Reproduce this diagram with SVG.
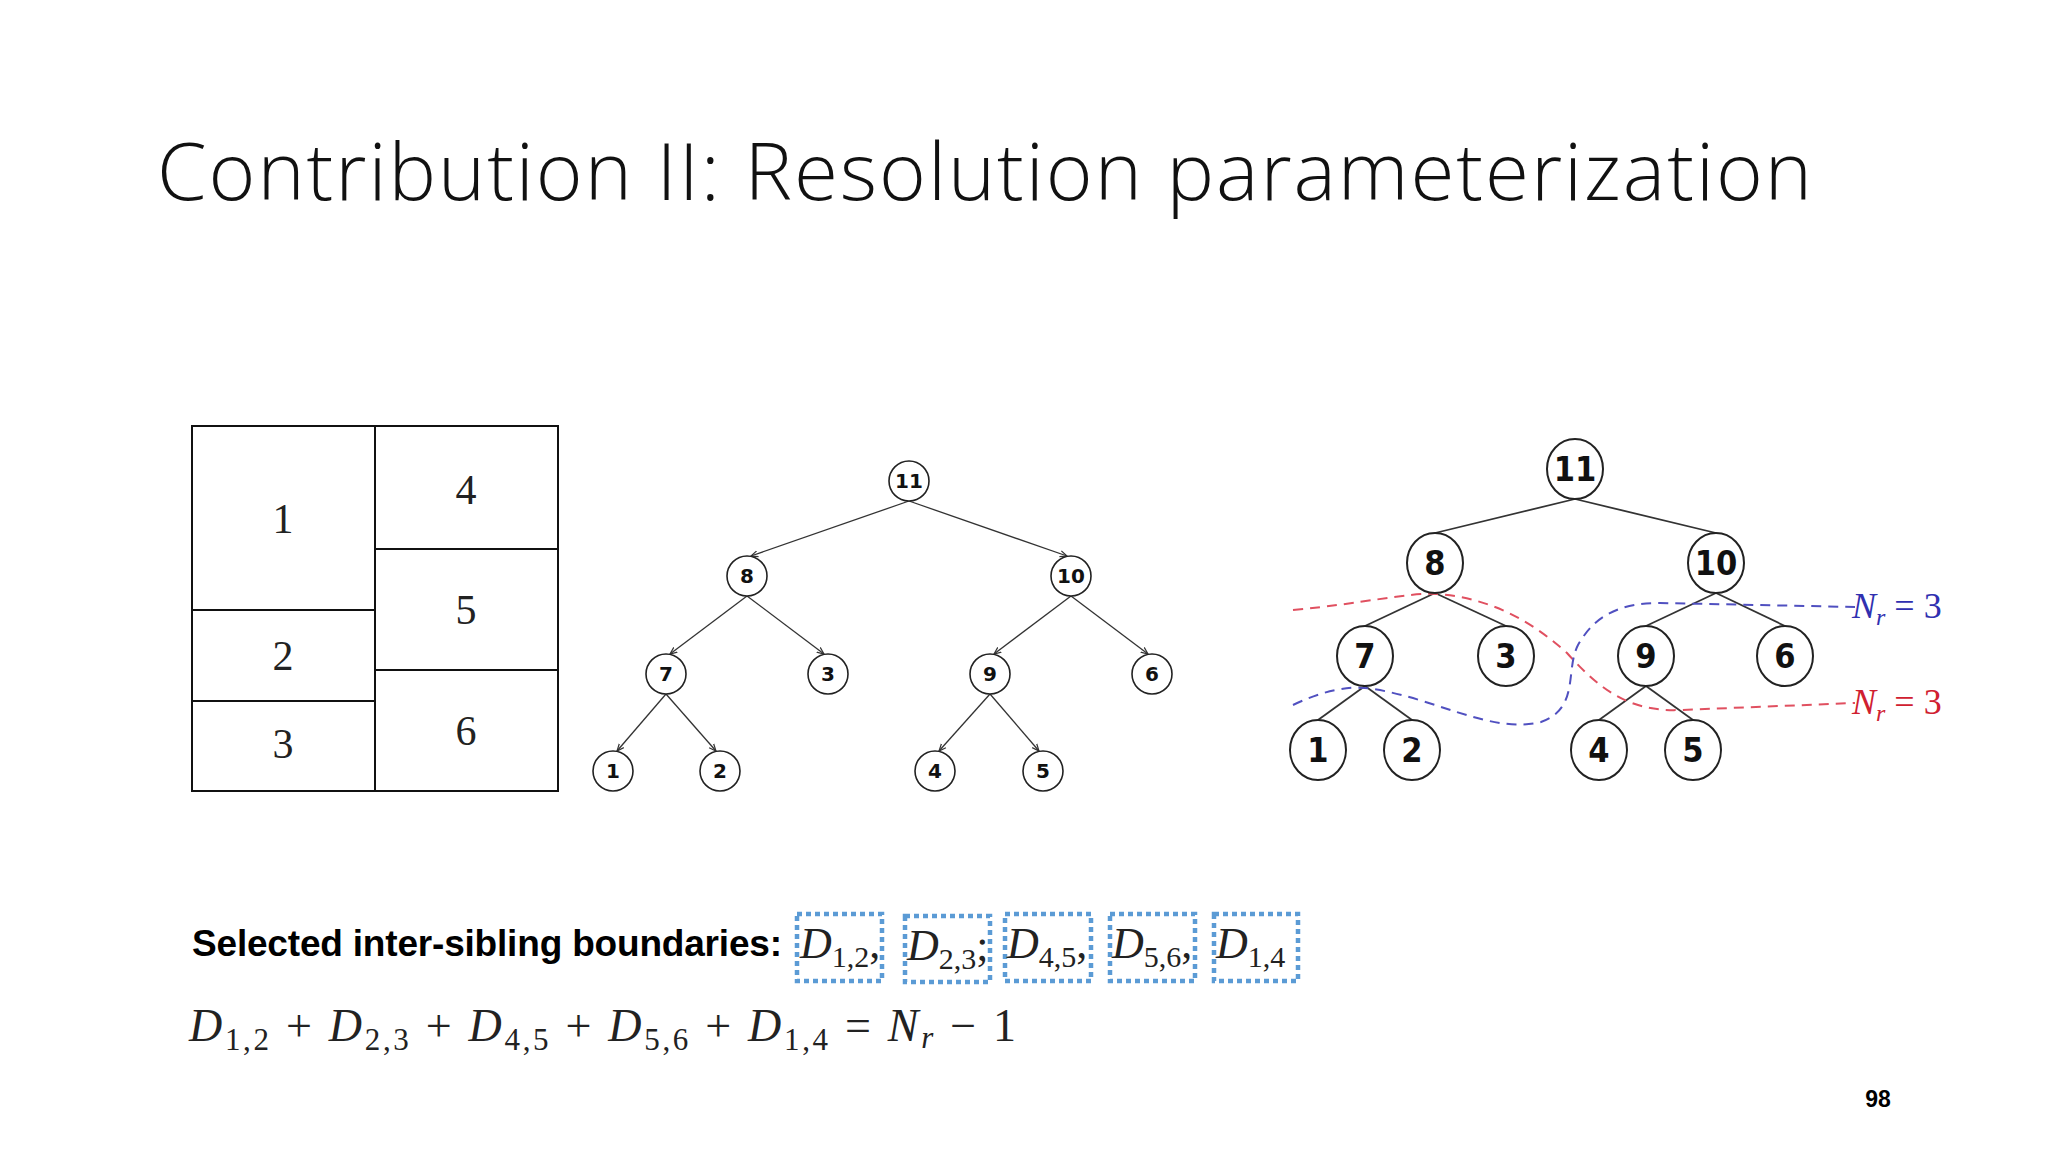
<svg xmlns="http://www.w3.org/2000/svg" width="2048" height="1152" viewBox="0 0 2048 1152">
<defs>
<style>
.title{font-family:"Open Sans","Liberation Sans",sans-serif;font-weight:300;font-size:80px;fill:#111}
.m{font-family:"Liberation Serif","DejaVu Serif",serif;fill:#222}
.nd{fill:#fff;stroke:#222;stroke-width:1.6}
.nd2{fill:#fff;stroke:#222;stroke-width:2}
.e{stroke:#333;stroke-width:1.3;fill:none}
.e2{stroke:#333;stroke-width:1.8;fill:none}
.nt{font-family:"DejaVu Sans","Liberation Sans",sans-serif;font-size:20px;font-weight:bold;text-anchor:middle;fill:#111}
.nt2{font-family:"DejaVu Sans Condensed","DejaVu Sans",sans-serif;font-size:34px;font-weight:bold;text-anchor:middle;fill:#111}
.bx{fill:none;stroke:#5b9bd5;stroke-width:4.5;stroke-dasharray:5 4}
.bl{font-family:"Liberation Sans",sans-serif;font-weight:bold;font-size:37px;fill:#000}
</style>
<marker id="ah" markerWidth="8" markerHeight="8" refX="7" refY="4" orient="auto" markerUnits="userSpaceOnUse"><path d="M0,1 L7,4 L0,7" fill="none" stroke="#333" stroke-width="1.2"/></marker>
</defs>
<rect width="2048" height="1152" fill="#fff"/>
<text class="title" x="157" y="200" textLength="1655">Contribution II: Resolution parameterization</text>

<g id="grid" class="m" font-size="42" text-anchor="middle">
<rect x="192" y="426" width="366" height="365" fill="none" stroke="#111" stroke-width="2"/>
<line x1="375" y1="426" x2="375" y2="791" stroke="#111" stroke-width="2"/>
<line x1="192" y1="610" x2="375" y2="610" stroke="#111" stroke-width="2"/>
<line x1="192" y1="701" x2="375" y2="701" stroke="#111" stroke-width="2"/>
<line x1="375" y1="549" x2="558" y2="549" stroke="#111" stroke-width="2"/>
<line x1="375" y1="670" x2="558" y2="670" stroke="#111" stroke-width="2"/>
<text x="283" y="533">1</text><text x="466" y="504">4</text><text x="466" y="624">5</text>
<text x="283" y="670">2</text><text x="283" y="758">3</text><text x="466" y="745">6</text>
</g>

<g id="tree1-edges">
<line class="e" x1="909" y1="501" x2="751" y2="556" marker-end="url(#ah)"/>
<line class="e" x1="909" y1="501" x2="1067" y2="556" marker-end="url(#ah)"/>
<line class="e" x1="747" y1="596" x2="670" y2="654" marker-end="url(#ah)"/>
<line class="e" x1="747" y1="596" x2="824" y2="654" marker-end="url(#ah)"/>
<line class="e" x1="1071" y1="596" x2="994" y2="654" marker-end="url(#ah)"/>
<line class="e" x1="1071" y1="596" x2="1148" y2="654" marker-end="url(#ah)"/>
<line class="e" x1="666" y1="694" x2="617" y2="751" marker-end="url(#ah)"/>
<line class="e" x1="666" y1="694" x2="716" y2="751" marker-end="url(#ah)"/>
<line class="e" x1="990" y1="694" x2="939" y2="751" marker-end="url(#ah)"/>
<line class="e" x1="990" y1="694" x2="1039" y2="751" marker-end="url(#ah)"/>
</g>
<g id="t1n11"><circle class="nd" cx="909" cy="481" r="20"/><text class="nt" x="909" y="488">11</text></g>
<g id="t1n8"><circle class="nd" cx="747" cy="576" r="20"/><text class="nt" x="747" y="583">8</text></g>
<g id="t1n10"><circle class="nd" cx="1071" cy="576" r="20"/><text class="nt" x="1071" y="583">10</text></g>
<g id="t1n7"><circle class="nd" cx="666" cy="674" r="20"/><text class="nt" x="666" y="681">7</text></g>
<g id="t1n3"><circle class="nd" cx="828" cy="674" r="20"/><text class="nt" x="828" y="681">3</text></g>
<g id="t1n9"><circle class="nd" cx="990" cy="674" r="20"/><text class="nt" x="990" y="681">9</text></g>
<g id="t1n6"><circle class="nd" cx="1152" cy="674" r="20"/><text class="nt" x="1152" y="681">6</text></g>
<g id="t1n1"><circle class="nd" cx="613" cy="771" r="20"/><text class="nt" x="613" y="778">1</text></g>
<g id="t1n2"><circle class="nd" cx="720" cy="771" r="20"/><text class="nt" x="720" y="778">2</text></g>
<g id="t1n4"><circle class="nd" cx="935" cy="771" r="20"/><text class="nt" x="935" y="778">4</text></g>
<g id="t1n5"><circle class="nd" cx="1043" cy="771" r="20"/><text class="nt" x="1043" y="778">5</text></g>

<g id="tree2-edges">
<line class="e2" x1="1575" y1="499" x2="1435" y2="533"/>
<line class="e2" x1="1575" y1="499" x2="1716" y2="533"/>
<line class="e2" x1="1435" y1="593" x2="1365" y2="626"/>
<line class="e2" x1="1435" y1="593" x2="1506" y2="626"/>
<line class="e2" x1="1716" y1="593" x2="1646" y2="626"/>
<line class="e2" x1="1716" y1="593" x2="1785" y2="626"/>
<line class="e2" x1="1365" y1="686" x2="1318" y2="720"/>
<line class="e2" x1="1365" y1="686" x2="1412" y2="720"/>
<line class="e2" x1="1646" y1="686" x2="1599" y2="720"/>
<line class="e2" x1="1646" y1="686" x2="1693" y2="720"/>
</g>
<g id="cuts" fill="none" stroke-width="2" stroke-dasharray="10 7">
<path d="M1293,610 C1360,604 1410,592 1437,594 C1490,598 1530,620 1567,653 C1600,690 1630,712 1680,710 L1855,703" stroke="#e05060"/>
<path d="M1293,705 C1320,692 1345,686 1365,688 C1430,695 1490,735 1541,722 C1580,708 1565,670 1578,645 C1595,615 1620,603 1660,603 L1855,607" stroke="#5050c0"/>
</g>
<g id="t2n11"><ellipse class="nd2" cx="1575" cy="469" rx="28" ry="30"/><text class="nt2" x="1575" y="481">11</text></g>
<g id="t2n8"><ellipse class="nd2" cx="1435" cy="563" rx="28" ry="30"/><text class="nt2" x="1435" y="575">8</text></g>
<g id="t2n10"><ellipse class="nd2" cx="1716" cy="563" rx="28" ry="30"/><text class="nt2" x="1716" y="575">10</text></g>
<g id="t2n7"><ellipse class="nd2" cx="1365" cy="656" rx="28" ry="30"/><text class="nt2" x="1365" y="668">7</text></g>
<g id="t2n3"><ellipse class="nd2" cx="1506" cy="656" rx="28" ry="30"/><text class="nt2" x="1506" y="668">3</text></g>
<g id="t2n9"><ellipse class="nd2" cx="1646" cy="656" rx="28" ry="30"/><text class="nt2" x="1646" y="668">9</text></g>
<g id="t2n6"><ellipse class="nd2" cx="1785" cy="656" rx="28" ry="30"/><text class="nt2" x="1785" y="668">6</text></g>
<g id="t2n1"><ellipse class="nd2" cx="1318" cy="750" rx="28" ry="30"/><text class="nt2" x="1318" y="762">1</text></g>
<g id="t2n2"><ellipse class="nd2" cx="1412" cy="750" rx="28" ry="30"/><text class="nt2" x="1412" y="762">2</text></g>
<g id="t2n4"><ellipse class="nd2" cx="1599" cy="750" rx="28" ry="30"/><text class="nt2" x="1599" y="762">4</text></g>
<g id="t2n5"><ellipse class="nd2" cx="1693" cy="750" rx="28" ry="30"/><text class="nt2" x="1693" y="762">5</text></g>
<g id="lbl-blue" class="m" font-size="36" style="fill:#3030b0"><text x="1852" y="618"><tspan font-style="italic">N</tspan><tspan font-size="24" font-style="italic" dy="7">r</tspan><tspan dy="-7"> = 3</tspan></text></g>
<g id="lbl-red" class="m" font-size="36" style="fill:#d02030"><text x="1852" y="714"><tspan font-style="italic">N</tspan><tspan font-size="24" font-style="italic" dy="7">r</tspan><tspan dy="-7"> = 3</tspan></text></g>

<g id="bottom">
<text class="bl" x="192" y="956" textLength="590">Selected inter-sibling boundaries:</text>
<rect class="bx" x="797" y="914" width="85" height="67"/>
<rect class="bx" x="905" y="916" width="85" height="66"/>
<rect class="bx" x="1005" y="914" width="86" height="67"/>
<rect class="bx" x="1110" y="914" width="85" height="67"/>
<rect class="bx" x="1214" y="914" width="84" height="67"/>
<text class="m" font-size="44" x="800" y="958"><tspan font-style="italic">D</tspan><tspan font-size="30" dy="9">1,2</tspan><tspan dy="-9">,</tspan></text>
<text class="m" font-size="44" x="907" y="960"><tspan font-style="italic">D</tspan><tspan font-size="30" dy="9">2,3</tspan><tspan dy="-9">;</tspan></text>
<text class="m" font-size="44" x="1007" y="958"><tspan font-style="italic">D</tspan><tspan font-size="30" dy="9">4,5</tspan><tspan dy="-9">,</tspan></text>
<text class="m" font-size="44" x="1112" y="958"><tspan font-style="italic">D</tspan><tspan font-size="30" dy="9">5,6</tspan><tspan dy="-9">,</tspan></text>
<text class="m" font-size="44" x="1216" y="958"><tspan font-style="italic">D</tspan><tspan font-size="30" dy="9">1,4</tspan></text>
<text class="m" font-size="46" x="189" y="1041" textLength="827"><tspan font-style="italic">D</tspan><tspan font-size="31" dy="9">1,2</tspan><tspan dy="-9"> + </tspan><tspan font-style="italic">D</tspan><tspan font-size="31" dy="9">2,3</tspan><tspan dy="-9"> + </tspan><tspan font-style="italic">D</tspan><tspan font-size="31" dy="9">4,5</tspan><tspan dy="-9"> + </tspan><tspan font-style="italic">D</tspan><tspan font-size="31" dy="9">5,6</tspan><tspan dy="-9"> + </tspan><tspan font-style="italic">D</tspan><tspan font-size="31" dy="9">1,4</tspan><tspan dy="-9"> = </tspan><tspan font-style="italic">N</tspan><tspan font-size="31" font-style="italic" dy="7">r</tspan><tspan dy="-7"> − 1</tspan></text>
<text x="1878" y="1107" font-family="Liberation Sans,sans-serif" font-weight="bold" font-size="23" text-anchor="middle">98</text>
</g>
</svg>
